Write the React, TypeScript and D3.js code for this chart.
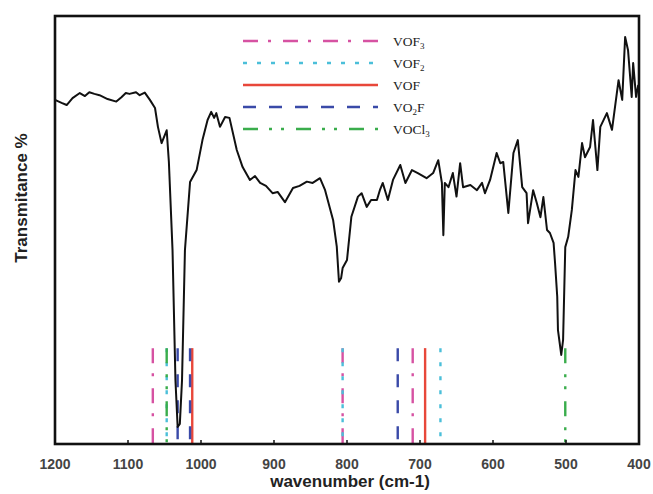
import React from "react";
import * as d3 from "d3";

// Spectrum: [wavenumber (cm-1), transmittance %]
const wavenumbers: number[] = [
  1200, 1191, 1184, 1176, 1166, 1159, 1153, 1146, 1139, 1128, 1116, 1109, 1103, 1098, 1089, 1084, 1077, 1070, 1063, 1059,
  1054, 1047, 1044, 1039, 1035, 1032, 1029, 1026, 1022, 1015, 1006, 998, 991, 986, 982, 979, 974, 967, 961, 951,
  943, 933, 926, 919, 911, 902, 895, 885, 874, 865, 855, 847, 837, 830, 819, 814, 811, 808, 806, 800,
  794, 785, 780, 773, 767, 759, 755, 751, 744, 737, 727, 720, 711, 703, 691, 682, 675, 670, 668, 666,
  661, 655, 650, 645, 641, 631, 622, 615, 611, 604, 595, 590, 586, 579, 572, 566, 560, 554, 552, 545,
  540, 535, 531, 526, 522, 517, 515, 512, 511, 506.5, 504, 501, 497, 492, 487, 483, 478, 474, 467, 463,
  457, 453, 444, 437, 428, 423, 419, 415, 410, 408, 404, 401,
];
const transmittance: number[] = [
  80.4, 79.7, 79.2, 80.8, 82.0, 81.3, 82.2, 81.8, 81.5, 80.6, 80.0, 81.0, 82.0, 81.8, 82.2, 81.5, 82.1, 80.4, 78.5, 74.1,
  70.3, 73.3, 65.9, 45.3, 14.9, 4.0, 4.7, 14.9, 45.3, 61.2, 64.0, 71.0, 75.7, 77.6, 76.2, 77.3, 74.1, 76.4, 76.2, 68.7,
  64.7, 61.7, 62.6, 61.0, 60.3, 58.6, 58.9, 56.5, 59.8, 60.3, 61.3, 61.0, 62.1, 59.3, 52.3, 46.1, 37.9, 38.8, 41.1, 43.0,
  53.1, 57.8, 58.6, 55.4, 57.0, 57.0, 59.3, 61.0, 57.0, 61.7, 65.2, 61.0, 64.0, 63.3, 62.1, 63.3, 66.3, 61.0, 48.8, 61.0,
  60.0, 63.3, 57.8, 65.6, 60.0, 60.5, 59.3, 61.0, 58.6, 61.7, 68.0, 65.6, 65.9, 54.0, 68.0, 71.0, 60.0, 58.6, 51.6, 59.3,
  56.3, 53.0, 57.7, 50.0, 49.3, 47.0, 42.3, 34.4, 26.6, 20.8, 24.3, 46.0, 48.4, 54.7, 64.0, 62.4, 70.3, 67.0, 69.4, 75.7,
  64.0, 74.1, 77.3, 73.4, 85.0, 80.4, 95.1, 92.0, 81.1, 89.0, 81.1, 83.9,
];

// Reference band positions per species
const species: string[] = ["VOF3", "VOF2", "VOF", "VO2F", "VOCl3"];
const speciesBands: number[][] = [
  [1066, 806, 710],
  [1047, 806, 672],
  [1012, 693],
  [1032, 1015, 730.5],
  [1047, 501],
];
const xTicks: number[] = [1200, 1100, 1000, 900, 800, 700, 600, 500, 400];

const colors = ["#d652a2", "#4bbfd9", "#e8473a", "#3a4aa8", "#3aad4c"];
const dashes = ["15,10,3,12", "4,10", "none", "13,13", "15,11,3,9,3,12"];

const W = 653, H = 494;
const L = 55, R = 639, T = 16, B = 444;

function LegendLabel({ name }: { name: string }) {
  const parts: { t: string; sub: boolean }[] = [];
  const re = /(\d+)|(\D+)/g;
  let m: RegExpExecArray | null;
  while ((m = re.exec(name))) parts.push({ t: m[0], sub: !!m[1] });
  return (
    <>
      {parts.map((p, i) =>
        p.sub ? (
          <tspan key={i} fontSize={9} dy={3}>{p.t}</tspan>
        ) : (
          <tspan key={i} dy={i > 0 && parts[i - 1].sub ? -3 : 0}>{p.t}</tspan>
        )
      )}
    </>
  );
}

export default function App() {
  const x = d3.scaleLinear().domain([1200, 400]).range([L, R]);
  const y = d3.scaleLinear().domain([0, 100]).range([B, T]);
  const pts: [number, number][] = wavenumbers.map((w, i) => [w, transmittance[i]]);
  const line = d3.line<[number, number]>().x((d) => x(d[0])).y((d) => y(d[1]));
  const bandTop = y(22.4);

  return (
    <svg width={W} height={H} style={{ position: "absolute", left: 0, top: 0, background: "#fff" }}>
      {/* reference bands */}
      {speciesBands.map((bands, si) =>
        bands.map((b, bi) => (
          <line
            key={`${si}-${bi}`}
            x1={x(b)} x2={x(b)} y1={bandTop} y2={B}
            stroke={colors[si]} strokeWidth={2.4}
            strokeDasharray={dashes[si] === "none" ? undefined : dashes[si]}
          />
        ))
      )}
      {/* spectrum */}
      <path d={line(pts) || ""} fill="none" stroke="#111" strokeWidth={2} strokeLinejoin="round" />
      {/* frame */}
      <rect x={L} y={T} width={R - L} height={B - T} fill="none" stroke="#111" strokeWidth={2.6} />
      {/* ticks */}
      {xTicks.map((t) => (
        <g key={t}>
          <line x1={x(t)} x2={x(t)} y1={B} y2={B - 4} stroke="#111" strokeWidth={1.5} />
          <text x={x(t)} y={469} textAnchor="middle" fontFamily="Liberation Sans, Arial, sans-serif" fontWeight="bold" fontSize={14} fill="#444">
            {t}
          </text>
        </g>
      ))}
      <text x={350} y={487} textAnchor="middle" fontFamily="Liberation Sans, Arial, sans-serif" fontWeight="bold" fontSize={17} fill="#222">
        wavenumber (cm-1)
      </text>
      <text transform={`translate(27,198) rotate(-90)`} textAnchor="middle" fontFamily="Liberation Sans, Arial, sans-serif" fontWeight="bold" fontSize={17} fill="#222">
        Transmitance %
      </text>
      {/* legend */}
      {species.map((s, i) => {
        const ly = 41 + i * 22;
        return (
          <g key={s}>
            <line x1={243} x2={378} y1={ly} y2={ly} stroke={colors[i]} strokeWidth={2.4}
              strokeDasharray={dashes[i] === "none" ? undefined : dashes[i]} />
            <text x={393} y={ly + 4.5} fontFamily="Liberation Serif, Times New Roman, serif" fontSize={13.5} fill="#222">
              <LegendLabel name={s} />
            </text>
          </g>
        );
      })}
    </svg>
  );
}
